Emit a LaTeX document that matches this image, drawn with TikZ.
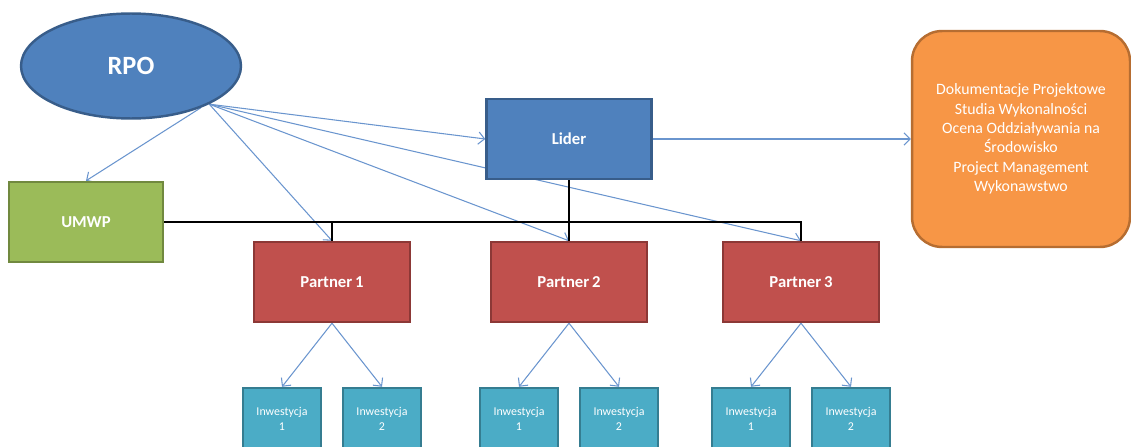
\documentclass[tikz,border=0pt]{standalone}
\usepackage{fontspec}
\setmainfont{Carlito}
\usetikzlibrary{arrows.meta,backgrounds,shapes.geometric}
\definecolor{mainblue}{HTML}{4F81BD}
\definecolor{mainblueedge}{HTML}{385D8A}
\definecolor{umwpgreen}{HTML}{9BBB59}
\definecolor{umwpedge}{HTML}{71893F}
\definecolor{partnerred}{HTML}{C0504D}
\definecolor{partneredge}{HTML}{8C3836}
\definecolor{invcyan}{HTML}{4BACC6}
\definecolor{invedge}{HTML}{357D91}
\definecolor{docorange}{HTML}{F79646}
\definecolor{docedge}{HTML}{B66D31}
\definecolor{linkblue}{HTML}{6A95CE}
\begin{document}
\begin{tikzpicture}[
        x = .02cm,
        y = -.02cm,
        box/.style = {draw, line width=1.4pt, text=white, inner sep=2pt,
            font=\bfseries\fontsize{9.5}{11}\selectfont},
        partnerbox/.style = {box, fill=partnerred, draw=partneredge,
            minimum width=3.12cm, minimum height=1.6cm},
        invbox/.style = {box, fill=invcyan, draw=invedge, align=center,
            minimum width=1.56cm, minimum height=1.24cm,
            font=\fontsize{6.8}{8.2}\selectfont},
        link/.style = {draw=linkblue, line width=.6pt,
            -{Straight Barb[length=3.5pt,width=7pt]}},
        tree/.style = {draw=black, line width=1.2pt}
    ]
        \useasboundingbox (0,0) rectangle (1131,446);
        \clip (0,0) rectangle (1131,446);

        % top row
        \node[ellipse, box, fill=mainblue, draw=mainblueedge,
            minimum width=4.4cm, minimum height=2.1cm,
            font=\bfseries\fontsize{15}{18}\selectfont] (RPO) at (131,66) {RPO};
        \node[box, fill=mainblue, draw=mainblueedge,
            minimum width=3.3cm, minimum height=1.6cm] (Lider) at (569,139) {Lider};
        \node[box, fill=docorange, draw=docedge, rounded corners=.6cm,
            minimum width=4.36cm, minimum height=4.32cm, align=center,
            font=\fontsize{9}{11}\selectfont] (Docs) at (1021,139)
            {Dokumentacje Projektowe\\Studia Wykonalności\\Ocena Oddziaływania na\\Środowisko\\Project Management\\Wykonawstwo};
        \node[box, fill=umwpgreen, draw=umwpedge,
            minimum width=3.08cm, minimum height=1.6cm] (UMWP) at (86,222) {UMWP};

        % partners and their investments
        \foreach \i/\px in {1/332, 2/569, 3/801} {
            \node[partnerbox] (P\i) at (\px,282) {Partner\,\i};
            \node[invbox] (P\i I1) at (\px-50,419) {Inwestycja\\1};
            \node[invbox] (P\i I2) at (\px+50,419) {Inwestycja\\2};
            \draw[link] (P\i.south) -- (P\i I1.north);
            \draw[link] (P\i.south) -- (P\i I2.north);
        }

        % tree lines
        \draw[tree] (UMWP.east) -- (P3.north |- UMWP.east) -- (P3.north);
        \draw[tree] (P1.north |- UMWP.east) -- (P1.north);
        \draw[tree] (Lider.south) -- (P2.north);

        % arrows from RPO
        \begin{scope}[on background layer]
            \draw[link] (RPO.-31) -- (UMWP.north);
            \draw[link] (RPO.-26) -- (Lider.west);
            \draw[link] (RPO.-26) -- (P1.north);
            \draw[link] (RPO.-26) -- (P2.north);
            \draw[link] (RPO.-26) -- (P3.north);
        \end{scope}
        \draw[link] (Lider.east) -- (Docs.west);
    \end{tikzpicture}
\end{document}
